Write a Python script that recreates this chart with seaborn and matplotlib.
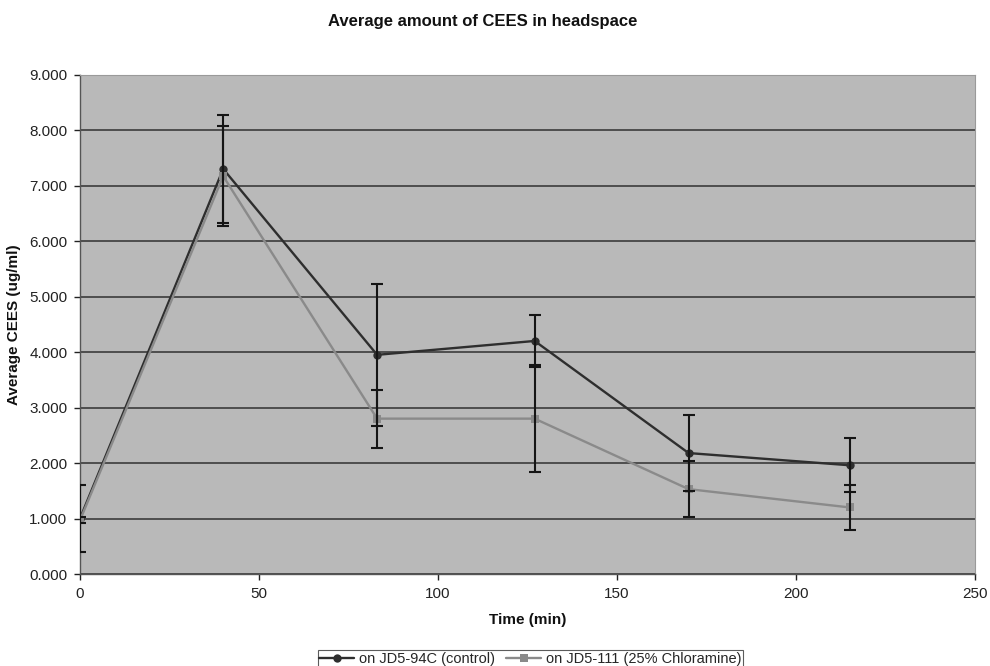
import numpy as np
import pandas as pd
import matplotlib
matplotlib.use("Agg")
import matplotlib.pyplot as plt
import seaborn as sns

# Sampling times (min)
time_min = [0, 40, 83, 127, 170, 215]

# Average CEES in headspace (ug/ml) and standard deviations
control_mean = [1.00, 7.30, 3.95, 4.20, 2.18, 1.96]
control_sd = [0.60, 0.97, 1.28, 0.47, 0.68, 0.49]
chloramine_mean = [0.97, 7.17, 2.80, 2.80, 1.53, 1.20]
chloramine_sd = [0.05, 0.90, 0.52, 0.97, 0.50, 0.41]

series_names = ["on JD5-94C (control)", "on JD5-111 (25% Chloramine)"]
y_ticks = [0, 1, 2, 3, 4, 5, 6, 7, 8, 9]
x_ticks = [0, 50, 100, 150, 200, 250]

df = pd.concat([
    pd.DataFrame({"Time": time_min, "CEES": control_mean, "sd": control_sd,
                  "Series": series_names[0]}),
    pd.DataFrame({"Time": time_min, "CEES": chloramine_mean, "sd": chloramine_sd,
                  "Series": series_names[1]}),
], ignore_index=True)

sns.set_theme(style="white")
plt.rcParams["font.family"] = ["Liberation Sans", "DejaVu Sans"]

fig = plt.figure(figsize=(9.9, 6.66), dpi=100)
fig.patch.set_facecolor("white")
ax = fig.add_axes([0.0808, 0.1381, 0.904, 0.7499])
ax.set_facecolor("#b9b9b9")

palette = {series_names[0]: "#2e2e2e", series_names[1]: "#8a8a8a"}
markers = {series_names[0]: "o", series_names[1]: "s"}

sns.lineplot(data=df, x="Time", y="CEES", hue="Series", style="Series",
             palette=palette, markers=markers, dashes=False, markersize=6,
             markeredgewidth=0, linewidth=1.7, ax=ax, zorder=3, legend=True)

for name in series_names:
    sub = df[df["Series"] == name]
    ax.errorbar(sub["Time"], sub["CEES"], yerr=sub["sd"], fmt="none",
                ecolor="#151515", elinewidth=1.5, capsize=4, capthick=1.5,
                zorder=4)

ax.set_xlim(0, 250)
ax.set_ylim(0, 9)
ax.set_xticks(x_ticks)
ax.set_yticks(y_ticks)
ax.set_yticklabels([f"{v:.3f}" for v in y_ticks])
ax.yaxis.grid(True, color="#3c3c3c", linewidth=1.2)
ax.xaxis.grid(False)
ax.set_axisbelow(True)
for side in ["left", "bottom"]:
    ax.spines[side].set_color("#555555")
    ax.spines[side].set_linewidth(1.0)
for side in ["top", "right"]:
    ax.spines[side].set_color("#9a9a9a")
    ax.spines[side].set_linewidth(0.8)
ax.tick_params(axis="both", labelsize=11, colors="#222222", length=4,
               width=1.0, direction="out", pad=5)
ax.tick_params(axis="both", which="both", left=True, bottom=True)

ax.set_xlabel("Time (min)", fontsize=11, fontweight="bold", labelpad=9,
              color="#111111")
ax.set_ylabel("Average CEES (ug/ml)", fontsize=11, fontweight="bold",
              labelpad=6, color="#111111")
fig.text(0.488, 0.968, "Average amount of CEES in headspace",
         ha="center", va="center", fontsize=12, fontweight="bold",
         color="#111111")

leg = ax.legend(loc="upper center", bbox_to_anchor=(0.503, -0.138), ncol=2,
                frameon=True, fontsize=10.5, handlelength=2.4,
                columnspacing=0.8, handletextpad=0.3, borderpad=0.1,
                fancybox=False, edgecolor="#333333")
leg.get_frame().set_linewidth(0.8)

fig.savefig("out.png", dpi=100, facecolor="white")
